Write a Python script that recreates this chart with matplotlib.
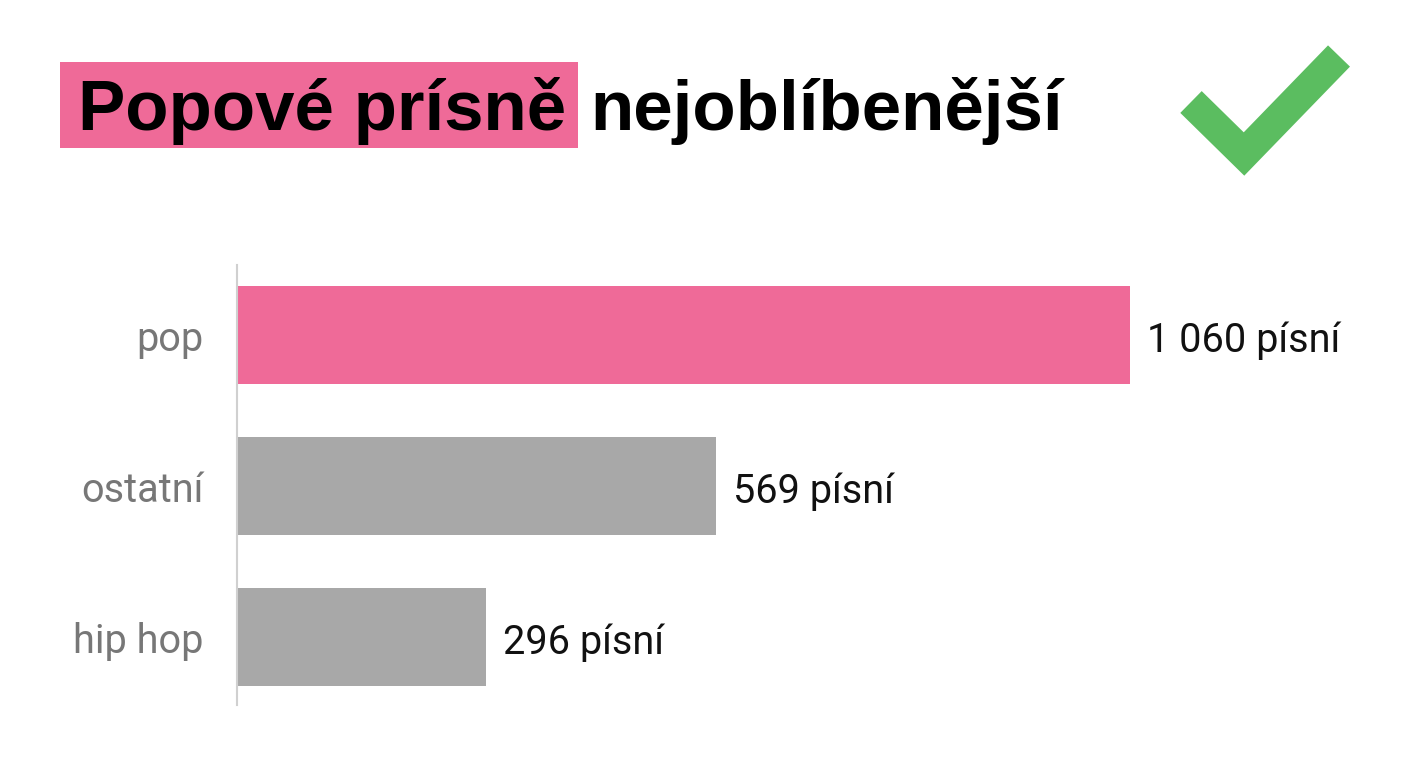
import matplotlib
matplotlib.use("Agg")
import matplotlib.pyplot as plt
from matplotlib.lines import Line2D
from matplotlib.patches import Rectangle
from matplotlib.transforms import ScaledTranslation

# data
genres = ["pop", "ostatní", "hip hop"]
songs = [1060, 569, 296]
unit = "písní"
title_hl = "Popové prísně"
title_rest = "nejoblíbenější"

PINK = "#EF6A98"
GRAY = "#A8A8A8"
GREEN = "#5BBD60"

W, H = 1408, 768
fig = plt.figure(figsize=(W / 100, H / 100), dpi=100)
fig.patch.set_facecolor("white")

# axes placed in pixels
x0, x1 = 237, 1408
y_top, y_bot = 265, 705
ax = fig.add_axes([x0 / W, 1 - y_bot / H, (x1 - x0) / W, (y_bot - y_top) / H])

colors = [PINK if g == "pop" else GRAY for g in genres]
pos = list(range(len(genres)))
ax.barh(pos, songs, height=0.65, color=colors)
ax.set_xlim(0, (x1 - x0) / (893 / 1060))
ax.set_ylim(2.45, -0.464)

for i, v in enumerate(songs):
    lab = f"{v:,} {unit}".replace(",", " ")
    ax.annotate(lab, (v, i), xytext=(12, -4), textcoords="offset points",
                va="center", ha="left", fontsize=28.5, family="Roboto",
                color="#111111")

ax.set_yticks(pos)
ax.set_yticklabels(genres, fontsize=28.5, family="Roboto", color="#777777")
# nudge category labels down a little
shift = ScaledTranslation(0, -4 / 72, fig.dpi_scale_trans)
for t in ax.get_yticklabels():
    t.set_transform(t.get_transform() + shift)
ax.tick_params(axis="y", length=0, pad=24)
ax.set_xticks([])
for s in ["top", "right", "bottom"]:
    ax.spines[s].set_visible(False)
ax.spines["left"].set_color("#D0D0D0")
ax.spines["left"].set_linewidth(1.5)

# title with highlighted part
t1 = fig.text(78 / W, 1 - 130 / H, title_hl, fontsize=51, fontweight="bold",
              family="Liberation Sans", va="baseline", ha="left", zorder=3)
fig.canvas.draw()
bb = t1.get_window_extent()
fig.add_artist(Rectangle(((bb.x0 - 18) / W, 1 - 148 / H),
                         (bb.x1 - bb.x0 + 30) / W, 86 / H,
                         transform=fig.transFigure, fc=PINK, ec="none", zorder=1))
fig.text((bb.x1 + 24) / W, 1 - 130 / H, title_rest, fontsize=51,
         fontweight="bold", family="Liberation Sans", va="baseline",
         ha="left", zorder=3)

# green check mark
px = [1191, 1244, 1339]
py = [102, 154, 56]
fig.add_artist(Line2D([p / W for p in px], [1 - p / H for p in py],
                      transform=fig.transFigure, color=GREEN, lw=22,
                      solid_capstyle="butt", solid_joinstyle="miter"))

fig.savefig("out.png", dpi=100, facecolor="white")
